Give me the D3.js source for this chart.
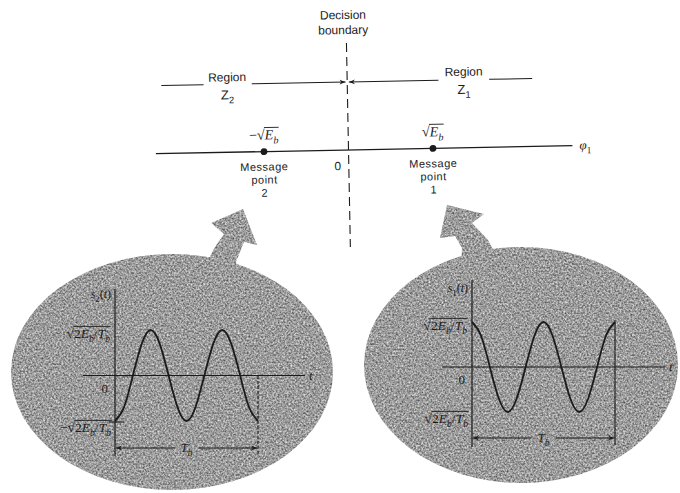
<!DOCTYPE html>
<html>
<head>
<meta charset="utf-8">
<script src="https://cdn.jsdelivr.net/npm/d3@7"></script>
<style>
  html, body { margin: 0; padding: 0; background: #fff; }
  svg { display: block; }
</style>
</head>
<body>
<svg id="chart" width="680" height="493"></svg>
<script>
// ---- Signal space: BPSK message points on the phi1 axis (units of sqrt(Eb)) ----
const messageValues = [-1, 1];
const messageNames = ["2", "1"];
const messageCoords = [
  [["−", ""], ["√", "rad"], ["E", "it"], ["b", "sub-it"]],
  [["√", "rad"], ["E", "it"], ["b", "sub-it"]]
];
const phiExtent = [-2.28, 2.65];

// ---- Transmitted waveforms over one bit interval (t as a fraction of Tb) ----
const tSamples = [0, 0.0625, 0.125, 0.1875, 0.25, 0.3125, 0.375, 0.4375, 0.5,
                  0.5625, 0.625, 0.6875, 0.75, 0.8125, 0.875, 0.9375, 1];
const s1Values = [1, 0.7, 0, -0.7, -1, -0.7, 0, 0.7, 1, 0.7, 0, -0.7, -1, -0.7, 0, 0.7, 1];
const s2Values = [-1, -0.7, 0, 0.7, 1, 0.7, 0, -0.7, -1, -0.7, 0, 0.7, 1, 0.7, 0, -0.7, -1];

const ink = "#1b1b1b";
const sans = "'Liberation Sans', Arial, sans-serif";
const serif = "'Liberation Serif', 'DejaVu Serif', serif";

const svg = d3.select("#chart");
const defs = svg.append("defs");

// Speckled grey halftone used for the waveform bubbles
const grain = defs.append("filter").attr("id", "grain")
  .attr("color-interpolation-filters", "sRGB")
  .attr("x", "-5%").attr("y", "-5%").attr("width", "110%").attr("height", "110%");
grain.append("feTurbulence").attr("type", "fractalNoise").attr("baseFrequency", 0.55)
  .attr("numOctaves", 2).attr("seed", 7).attr("result", "noise");
grain.append("feColorMatrix").attr("in", "noise").attr("type", "matrix")
  .attr("values", "0.8 0 0 0 0.21  0.8 0 0 0 0.21  0.8 0 0 0 0.21  0 0 0 0 1")
  .attr("result", "grey");
grain.append("feComposite").attr("in", "grey").attr("in2", "SourceGraphic").attr("operator", "in");

function arrowMarker(id, orient) {
  defs.append("marker").attr("id", id)
    .attr("viewBox", "0 0 10 10").attr("refX", 10).attr("refY", 5)
    .attr("markerWidth", 8).attr("markerHeight", 6)
    .attr("markerUnits", "userSpaceOnUse").attr("orient", orient)
    .append("path").attr("d", "M0,1 L10,5 L0,9 L3,5 Z").attr("fill", ink);
}
arrowMarker("arrowEnd", "auto");
arrowMarker("arrowStart", "auto-start-reverse");

// Math text: pieces are [text, kind]; kinds: "", "it", "sub", "sub-it", "rad"
function math(g, x, y, pieces, size, anchor) {
  const t = g.append("text").attr("x", x).attr("y", y)
    .attr("font-family", serif).attr("font-size", size)
    .attr("text-anchor", anchor || "middle").attr("fill", ink);
  let lowered = false, radIndex = -1, count = 0;
  pieces.forEach(([s, kind]) => {
    const sp = t.append("tspan").text(s);
    const sub = kind.includes("sub");
    if (sub && !lowered) { sp.attr("dy", size * 0.3); lowered = true; }
    else if (!sub && lowered) { sp.attr("dy", -size * 0.3); lowered = false; }
    if (sub) sp.attr("font-size", size * 0.72);
    if (kind.includes("it")) sp.attr("font-style", "italic");
    if (kind === "rad") radIndex = count;
    count += s.length;
  });
  if (radIndex >= 0) {
    const node = t.node();
    const rad = node.getExtentOfChar(radIndex);
    const bb = node.getBBox();
    g.append("line")
      .attr("x1", rad.x + rad.width - 0.6).attr("x2", bb.x + bb.width + 0.5)
      .attr("y1", y - size * 0.86).attr("y2", y - size * 0.86)
      .attr("stroke", ink).attr("stroke-width", 0.9);
  }
  return t;
}

function label(g, x, y, text, size, anchor) {
  return g.append("text").attr("x", x).attr("y", y)
    .attr("font-family", sans).attr("font-size", size || 12.5)
    .attr("text-anchor", anchor || "middle").attr("fill", ink).text(text);
}

// ================= Signal-space diagram (slightly tilted in print) =================
const space = svg.append("g").attr("transform", "rotate(-1.1, 348, 150)");
const phi = d3.scaleLinear().domain([-1, 1]).range([264, 433]);
const axisY = 150;
const regionY = 82;

// phi1 axis
space.append("line")
  .attr("x1", phi(phiExtent[0])).attr("x2", phi(phiExtent[1]))
  .attr("y1", axisY).attr("y2", axisY)
  .attr("stroke", ink).attr("stroke-width", 1.3);
math(space, phi(phiExtent[1]) + 7, axisY + 4, [["φ", "it"], ["1", "sub"]], 13, "start");

// Decision boundary
space.append("line")
  .attr("x1", phi(0)).attr("x2", phi(0)).attr("y1", 43).attr("y2", 247)
  .attr("stroke", ink).attr("stroke-width", 1.1).attr("stroke-dasharray", "9,5");
label(space, phi(0) - 3, 19, "Decision", 12);
label(space, phi(0) - 3, 34, "boundary", 12);
label(space, phi(0) - 11, axisY + 20, "0", 12);

// Decision regions
space.append("line").attr("x1", phi(-2.2)).attr("x2", phi(-1.7))
  .attr("y1", regionY).attr("y2", regionY).attr("stroke", ink).attr("stroke-width", 1);
space.append("line").attr("x1", phi(-1.13)).attr("x2", phi(-0.02))
  .attr("y1", regionY).attr("y2", regionY).attr("stroke", ink).attr("stroke-width", 1)
  .attr("marker-end", "url(#arrowEnd)");
space.append("line").attr("x1", phi(1.08)).attr("x2", phi(0.02))
  .attr("y1", regionY).attr("y2", regionY).attr("stroke", ink).attr("stroke-width", 1)
  .attr("marker-end", "url(#arrowEnd)");
space.append("line").attr("x1", phi(1.68)).attr("x2", phi(2.19))
  .attr("y1", regionY).attr("y2", regionY).attr("stroke", ink).attr("stroke-width", 1);

label(space, phi(-1.42), 79, "Region", 12);
math(space, phi(-1.42), 97, [["Z", ""], ["2", "sub"]], 13).attr("font-family", sans);
label(space, phi(1.38), 78, "Region", 12);
math(space, phi(1.38), 96, [["Z", ""], ["1", "sub"]], 13).attr("font-family", sans);

// Message points
messageValues.forEach((v, i) => {
  const x = phi(v);
  space.append("circle").attr("cx", x).attr("cy", axisY).attr("r", 3.4).attr("fill", ink);
  math(space, x, 138, messageCoords[i], 14);
  [["Message", 169], ["point", 182], [messageNames[i], 195]].forEach(([s, yy]) => {
    label(space, x, yy, s, 11).attr("letter-spacing", 0.5);
  });
});

// ================= Waveform bubbles =================
const bubbles = svg.append("g").attr("filter", "url(#grain)");
// pointer arrows from each bubble towards its message point
bubbles.append("path")
  .attr("d", "M203,270 L215,247 L224,234 L211,223 L243,209 L257,245 L244,242 L236,262 L238,272 Z")
  .attr("fill", "#000");
bubbles.append("path")
  .attr("d", "M461,270 L462,248 L455,236 L440,238 L447,205 L484,214 L472,223 L488,240 L500,262 Z")
  .attr("fill", "#000");
bubbles.append("ellipse").attr("cx", 172).attr("cy", 372).attr("rx", 161).attr("ry", 118).attr("fill", "#000");
bubbles.append("ellipse").attr("cx", 521).attr("cy", 365).attr("rx", 157).attr("ry", 118).attr("fill", "#000");

const ampLabel = [["√", "rad"], ["2", ""], ["E", "it"], ["b", "sub-it"], ["/", ""], ["T", "it"], ["b", "sub-it"]];
const negAmpLabel = [["−", ""]].concat(ampLabel);

function waveformPanel(cfg) {
  const g = svg.append("g");
  const x = d3.scaleLinear().domain([0, 1]).range(cfg.xRange);
  const y = d3.scaleLinear().domain([-1, 1]).range(cfg.yRange);
  const x0 = x(0), x1 = x(1), yZero = y(0);

  // time axis and amplitude axis
  g.append("line").attr("x1", cfg.tAxis[0]).attr("x2", cfg.tAxis[1])
    .attr("y1", yZero).attr("y2", yZero).attr("stroke", ink).attr("stroke-width", 1.2);
  g.append("line").attr("x1", x0).attr("x2", x0)
    .attr("y1", cfg.vAxis[0]).attr("y2", cfg.vAxis[1]).attr("stroke", ink).attr("stroke-width", 1.2);
  // end-of-bit marker
  g.append("line").attr("x1", x1).attr("x2", x1)
    .attr("y1", cfg.endTop).attr("y2", cfg.dimY + 7).attr("stroke", ink).attr("stroke-width", 1.1)
    .attr("stroke-dasharray", cfg.endDash);

  // Tb dimension
  g.append("line").attr("x1", x0 + 1).attr("x2", (x0 + x1) / 2 - 12)
    .attr("y1", cfg.dimY).attr("y2", cfg.dimY).attr("stroke", ink).attr("stroke-width", 1.1)
    .attr("marker-start", "url(#arrowStart)");
  g.append("line").attr("x1", (x0 + x1) / 2 + 12).attr("x2", x1 - 1)
    .attr("y1", cfg.dimY).attr("y2", cfg.dimY).attr("stroke", ink).attr("stroke-width", 1.1)
    .attr("marker-end", "url(#arrowEnd)");
  math(g, (x0 + x1) / 2, cfg.dimY + 4, [["T", "it"], ["b", "sub-it"]], 13);

  // waveform
  const line = d3.line().x((d, i) => x(tSamples[i])).y(d => y(d)).curve(d3.curveNatural);
  g.append("path").datum(cfg.values).attr("d", line)
    .attr("fill", "none").attr("stroke", ink).attr("stroke-width", 1.8);

  // labels
  math(g, x0 - 4, cfg.sLabelY, [["s", "it"], [cfg.idx, "sub"], ["(", ""], ["t", "it"], [")", ""]], 12, "end");
  math(g, x0 - 5, y(1) + 8, ampLabel, 13.5, "end");
  math(g, x0 - 7, yZero + 17, [["0", ""]], 13, "end");
  math(g, x0 - 4, y(-1) + 11, cfg.negLabel, 13.5, "end");
  math(g, cfg.tAxis[1] + 4, yZero + 4, [["t", "it"]], 13, "start");
  if (cfg.tick) {
    g.append("line").attr("x1", x0 - 6).attr("x2", x0 + 9)
      .attr("y1", y(-1) + 1).attr("y2", y(-1) + 1).attr("stroke", ink).attr("stroke-width", 1.1);
  }
}

waveformPanel({
  idx: "2", values: s2Values,
  xRange: [115, 258], yRange: [421, 330],
  tAxis: [83, 305], vAxis: [289, 456],
  endTop: 376, endDash: "3,2", dimY: 448,
  sLabelY: 298, negLabel: negAmpLabel, tick: true
});
waveformPanel({
  idx: "1", values: s1Values,
  xRange: [472, 615], yRange: [412, 322],
  tAxis: [442, 665], vAxis: [280, 447],
  endTop: 320, endDash: null, dimY: 438,
  sLabelY: 292, negLabel: ampLabel, tick: false
});
</script>
</body>
</html>
